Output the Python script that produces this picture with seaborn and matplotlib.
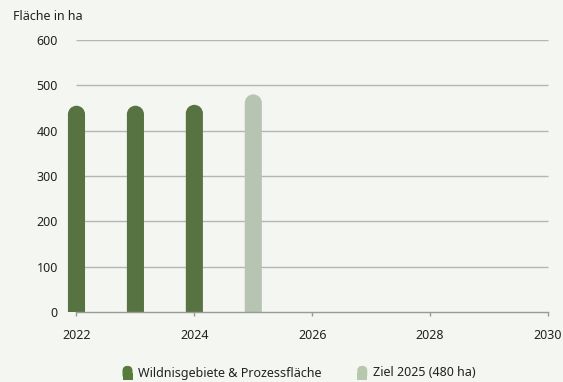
import matplotlib
matplotlib.use("Agg")
import numpy as np
import pandas as pd
import matplotlib.pyplot as plt
import seaborn as sns
from matplotlib.patches import FancyBboxPatch, Rectangle, Patch, PathPatch
from matplotlib.path import Path
from matplotlib.transforms import Affine2D
from matplotlib.legend_handler import HandlerPatch

# ---- data ----
years = [2022, 2023, 2024, 2025]
series = ["Wildnisgebiete & Prozessfläche"] * 3 + ["Ziel 2025 (480 ha)"]
totals = [455, 455, 457, 480]
legend_labels = ["Wildnisgebiete & Prozessfläche", "Ziel 2025 (480 ha)"]
yticks = [0, 100, 200, 300, 400, 500, 600]
xticks = [2022, 2024, 2026, 2028, 2030]
ylabel = "Fläche in ha"

# ---- style ----
bg = "#f4f6f2"
green = "#567b3a"
light = "#b6c7ae"
palette = {legend_labels[0]: green, legend_labels[1]: light}
txt = "#222222"
gridc = "#b5b5b5"

sns.set_theme(style="white")
plt.rcParams["font.family"] = ["Noto Sans", "DejaVu Sans"]

W, H = 563, 382
fig = plt.figure(figsize=(W / 100, H / 100), dpi=100, facecolor=bg)
ax = fig.add_axes([62 / W, 70 / H, (552 - 62) / W, (312 - 40) / H])
ax.set_facecolor(bg)

df = pd.DataFrame({"Jahr": years, "Fläche": totals, "Serie": series})
sns.barplot(data=df, x="Jahr", y="Fläche", hue="Serie", palette=palette,
            native_scale=True, width=0.29, dodge=False, legend=False, ax=ax,
            zorder=3)

xmin = 2022 - 14.5 / 59
xmax = 2030 + 4 / 59
ax.set_xlim(xmin, xmax)
ax.set_ylim(0, 600)

# rounded (semicircular) tops, built in data coords with the pixel aspect
p0 = ax.transData.transform([(2022, 0), (2023, 100)])
xpp = 1.0 / (p0[1, 0] - p0[0, 0])
ypp = 100.0 / (p0[1, 1] - p0[0, 1])
aspect = ypp / xpp
for p in list(ax.patches):
    x, w, h = p.get_x(), p.get_width(), p.get_height()
    fc = p.get_facecolor()
    p.remove()
    rx = w / 2
    ry = rx * aspect
    arc = Path.arc(0, 180)
    arc_v = Affine2D().scale(rx, ry).translate(x + rx, h - ry).transform(arc.vertices)
    verts = [(x + w, 0), (x + w, h - ry)] + [tuple(v) for v in arc_v[1:]] + [(x, 0), (x + w, 0)]
    codes = [Path.MOVETO, Path.LINETO] + list(arc.codes[1:]) + [Path.LINETO, Path.CLOSEPOLY]
    pp = PathPatch(Path(verts, codes), fc=fc, ec="none", lw=0, zorder=3)
    ax.add_patch(pp)

ax.hlines(yticks[1:], 2022, 2030, color=gridc, lw=1, zorder=1)

for s in ["left", "right", "top"]:
    ax.spines[s].set_visible(False)
ax.spines["bottom"].set_bounds(2022, 2030)
ax.spines["bottom"].set_color("#9a9a9a")
ax.spines["bottom"].set_linewidth(1)
ax.spines["bottom"].set_zorder(4)

ax.set_yticks(yticks)
ax.set_yticklabels([str(v) for v in yticks])
ax.set_xticks(xticks)
ax.set_xticklabels([str(v) for v in xticks])
ax.tick_params(axis="y", length=0, pad=3, labelsize=9, labelcolor=txt)
ax.tick_params(axis="x", length=3, width=1, color="#9a9a9a", pad=9,
               labelsize=9, labelcolor=txt, bottom=True)
ax.set_xlabel("")
ax.set_ylabel("")

fig.text(13 / W, 1 - 17 / H, ylabel, fontsize=9, color=txt, va="center", ha="left")


class RoundTopHandler(HandlerPatch):
    def create_artists(self, legend, orig_handle, xdescent, ydescent, width,
                       height, fontsize, trans):
        w = 7.2
        h = 10.0
        x0 = -xdescent + (width - w) / 2
        y0 = -ydescent + (height - h) / 2 - 0.5
        fc = orig_handle.get_facecolor()
        rect = Rectangle((x0, y0), w, h / 2, fc=fc, ec="none", transform=trans)
        rnd = FancyBboxPatch((x0, y0), w, h,
                             boxstyle=f"round,pad=0,rounding_size={w / 2}",
                             fc=fc, ec="none", transform=trans)
        return [rect, rnd]


handles = [Patch(facecolor=palette[l]) for l in legend_labels]
fig.legend(handles, legend_labels, handler_map={Patch: RoundTopHandler()},
           loc="center", bbox_to_anchor=(299 / W, 1 - 373 / H), ncol=2,
           frameon=False, fontsize=9, handlelength=0.8, handletextpad=0.45,
           columnspacing=2.85, labelcolor=txt)

fig.savefig("out.png", dpi=100, facecolor=bg)
